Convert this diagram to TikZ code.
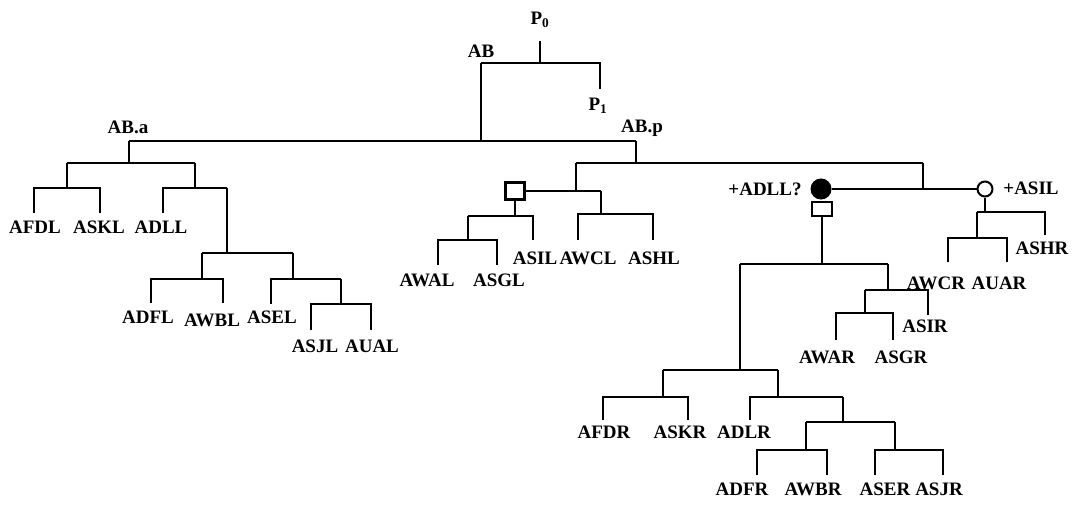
\documentclass[tikz,border=0pt]{standalone}
\usepackage{fontspec}
\setmainfont{Liberation Serif}
\begin{document}
\begin{tikzpicture}[x=1pt,y=-1pt,
  lab/.style={font=\fontsize{19}{20}\selectfont\bfseries, inner sep=0pt, anchor=center},
  br/.style={line width=2.6pt, line join=miter},
  sq/.style={draw, line width=2.4pt, minimum width=19pt, minimum height=17pt, inner sep=0pt},
  fcirc/.style={circle, fill=black, draw, line width=1pt, minimum size=20pt, inner sep=0pt},
  ocirc/.style={circle, draw, line width=2pt, minimum size=15pt, inner sep=0pt}]
\fill[white] (0,0) rectangle (1086,505);
\useasboundingbox (0,0) rectangle (1086,505);

% ---------- labels ----------
\node[lab] (p0) at (540,20) {P\textsubscript{0}};
\node[lab] (p1) at (598,106) {P\textsubscript{1}};
\node[lab] (ab) at (481,51) {AB};
\node[lab] (aba) at (128,127) {AB.a};
\node[lab] (abp) at (642,128) {AB.p};
\node[lab] (afdl) at (35,227) {AFDL};
\node[lab] (askl) at (99,227) {ASKL};
\node[lab] (adll) at (161,227) {ADLL};
\node[lab] (adfl) at (148,317) {ADFL};
\node[lab] (awbl) at (212,320) {AWBL};
\node[lab] (asel) at (272,317) {ASEL};
\node[lab] (asjl) at (315,346) {ASJL};
\node[lab] (aual) at (372,346) {AUAL};
\node[lab] (awal) at (427,280) {AWAL};
\node[lab] (asgl) at (499,280) {ASGL};
\node[lab] (asil) at (535,258) {ASIL};
\node[lab] (awcl) at (588,258) {AWCL};
\node[lab] (ashl) at (654,258) {ASHL};
\node[lab] (padll) at (765,189) {+ADLL?};
\node[lab] (pasil) at (1031,188) {+ASIL};
\node[lab] (ashr) at (1042,248) {ASHR};
\node[lab] (awcr) at (936,283) {AWCR};
\node[lab] (auar) at (999,283) {AUAR};
\node[lab] (asir) at (925,326) {ASIR};
\node[lab] (awar) at (827,357) {AWAR};
\node[lab] (asgr) at (901,357) {ASGR};
\node[lab] (afdr) at (604,432) {AFDR};
\node[lab] (askr) at (680,432) {ASKR};
\node[lab] (adlr) at (744,432) {ADLR};
\node[lab] (adfr) at (742,489) {ADFR};
\node[lab] (awbr) at (813,489) {AWBR};
\node[lab] (aser) at (885,489) {ASER};
\node[lab] (asjr) at (939,489) {ASJR};

% ---------- markers ----------
\node[sq] (sqL) at (515,191) {};
\node[fcirc] (fc) at (821,189) {};
\node[sq, minimum width=20pt, minimum height=14pt] (sqR) at (822,209) {};
\node[ocirc] (oc) at (985,189) {};

% ---------- coordinates ----------
\coordinate (p0s) at (540,41);
\coordinate (rootB) at (540,63);
\coordinate (p1E) at (600,89);
\coordinate (abT) at (481,63);
\coordinate (abB) at (481,141);
\coordinate (abaT) at (129,141);
\coordinate (abaB) at (129,163);
\coordinate (abpT) at (636,141);
\coordinate (abpB) at (636,163);
% left subtree
\coordinate (n1T) at (67,163);  \coordinate (n1B) at (67,188);
\coordinate (afdlE) at (34,213); \coordinate (asklE) at (100,213);
\coordinate (n2T) at (195,163); \coordinate (n2B) at (195,188);
\coordinate (adllE) at (163,213);
\coordinate (n3T) at (227,188); \coordinate (n3B) at (227,253);
\coordinate (n4T) at (202,253); \coordinate (n4B) at (202,279);
\coordinate (adflE) at (151,303); \coordinate (awblE) at (223,303);
\coordinate (n5T) at (293,253); \coordinate (n5B) at (293,279);
\coordinate (aselE) at (271,304);
\coordinate (n6T) at (341,279); \coordinate (n6B) at (341,304);
\coordinate (asjlE) at (311,330); \coordinate (aualE) at (371,330);
% middle subtree
\coordinate (m1T) at (576,163); \coordinate (m1B) at (576,191);
\coordinate (m3T) at (601,191); \coordinate (m3B) at (601,214);
\coordinate (awclE) at (578,240); \coordinate (ashlE) at (653,240);
\coordinate (sqLB) at (515,216);
\coordinate (m2T) at (468,216); \coordinate (m2B) at (468,240);
\coordinate (asilE) at (533,240);
\coordinate (awalE) at (438,265); \coordinate (asglE) at (497,265);
% right subtree
\coordinate (r1T) at (923,163); \coordinate (r1B) at (923,189);
\coordinate (sqRB) at (822,264);
\coordinate (q1T) at (740,264); \coordinate (q1B) at (740,370);
\coordinate (q2T) at (663,370); \coordinate (q2B) at (663,397);
\coordinate (afdrE) at (603,420); \coordinate (askrE) at (688,420);
\coordinate (q3T) at (778,370); \coordinate (q3B) at (778,397);
\coordinate (adlrE) at (750,420);
\coordinate (q4T) at (843,397); \coordinate (q4B) at (843,422);
\coordinate (q5T) at (806,422); \coordinate (q5B) at (806,450);
\coordinate (adfrE) at (757,475); \coordinate (awbrE) at (827,475);
\coordinate (q6T) at (895,422); \coordinate (q6B) at (895,450);
\coordinate (aserE) at (875,475); \coordinate (asjrE) at (943,475);
\coordinate (q7T) at (888,264); \coordinate (q7B) at (888,290);
\coordinate (q8T) at (865,290); \coordinate (q8B) at (865,313);
\coordinate (asirE) at (928,315);
\coordinate (awarE) at (836,340); \coordinate (asgrE) at (893,340);
\coordinate (ocB) at (985,212);
\coordinate (o1T) at (977,212); \coordinate (o1B) at (977,238);
\coordinate (ashrE) at (1045,235);
\coordinate (awcrE) at (948,262); \coordinate (auarE) at (1007,262);

% ---------- brackets ----------
\draw[br] (p0s) -- (rootB);
\draw[br] (abT) |- (rootB) -| (p1E);
\draw[br] (abT) -- (abB);
\draw[br] (abaT) |- (abB) -| (abpT);
\draw[br] (abaT) -- (abaB);
\draw[br] (n1T) |- (abaB) -| (n2T);
\draw[br] (n1T) -- (n1B);
\draw[br] (afdlE) |- (n1B) -| (asklE);
\draw[br] (n2T) -- (n2B);
\draw[br] (adllE) |- (n2B) -| (n3T);
\draw[br] (n3T) -- (n3B);
\draw[br] (n4T) |- (n3B) -| (n5T);
\draw[br] (n4T) -- (n4B);
\draw[br] (adflE) |- (n4B) -| (awblE);
\draw[br] (n5T) -- (n5B);
\draw[br] (aselE) |- (n5B) -| (n6T);
\draw[br] (n6T) -- (n6B);
\draw[br] (asjlE) |- (n6B) -| (aualE);

\draw[br] (abpT) -- (abpB);
\draw[br] (m1T) |- (abpB) -| (r1T);
\draw[br] (m1T) -- (m1B);
\draw[br] (sqL.east) -- (m1B) -- (m3T);
\draw[br] (m3T) -- (m3B);
\draw[br] (awclE) |- (m3B) -| (ashlE);
\draw[br] (sqL.south) -- (sqLB);
\draw[br] (m2T) |- (sqLB) -| (asilE);
\draw[br] (m2T) -- (m2B);
\draw[br] (awalE) |- (m2B) -| (asglE);

\draw[br] (r1T) -- (r1B);
\draw[br] (fc.east) -- (r1B) -- (oc.west);
\draw[br] (sqR.south) -- (sqRB);
\draw[br] (q1T) |- (sqRB) -| (q7T);
\draw[br] (q1T) -- (q1B);
\draw[br] (q2T) |- (q1B) -| (q3T);
\draw[br] (q2T) -- (q2B);
\draw[br] (afdrE) |- (q2B) -| (askrE);
\draw[br] (q3T) -- (q3B);
\draw[br] (adlrE) |- (q3B) -| (q4T);
\draw[br] (q4T) -- (q4B);
\draw[br] (q5T) |- (q4B) -| (q6T);
\draw[br] (q5T) -- (q5B);
\draw[br] (adfrE) |- (q5B) -| (awbrE);
\draw[br] (q6T) -- (q6B);
\draw[br] (aserE) |- (q6B) -| (asjrE);
\draw[br] (q7T) -- (q7B);
\draw[br] (q8T) |- (q7B) -| (asirE);
\draw[br] (q8T) -- (q8B);
\draw[br] (awarE) |- (q8B) -| (asgrE);
\draw[br] (oc.south) -- (ocB);
\draw[br] (o1T) |- (ocB) -| (ashrE);
\draw[br] (o1T) -- (o1B);
\draw[br] (awcrE) |- (o1B) -| (auarE);
\end{tikzpicture}
\end{document}
